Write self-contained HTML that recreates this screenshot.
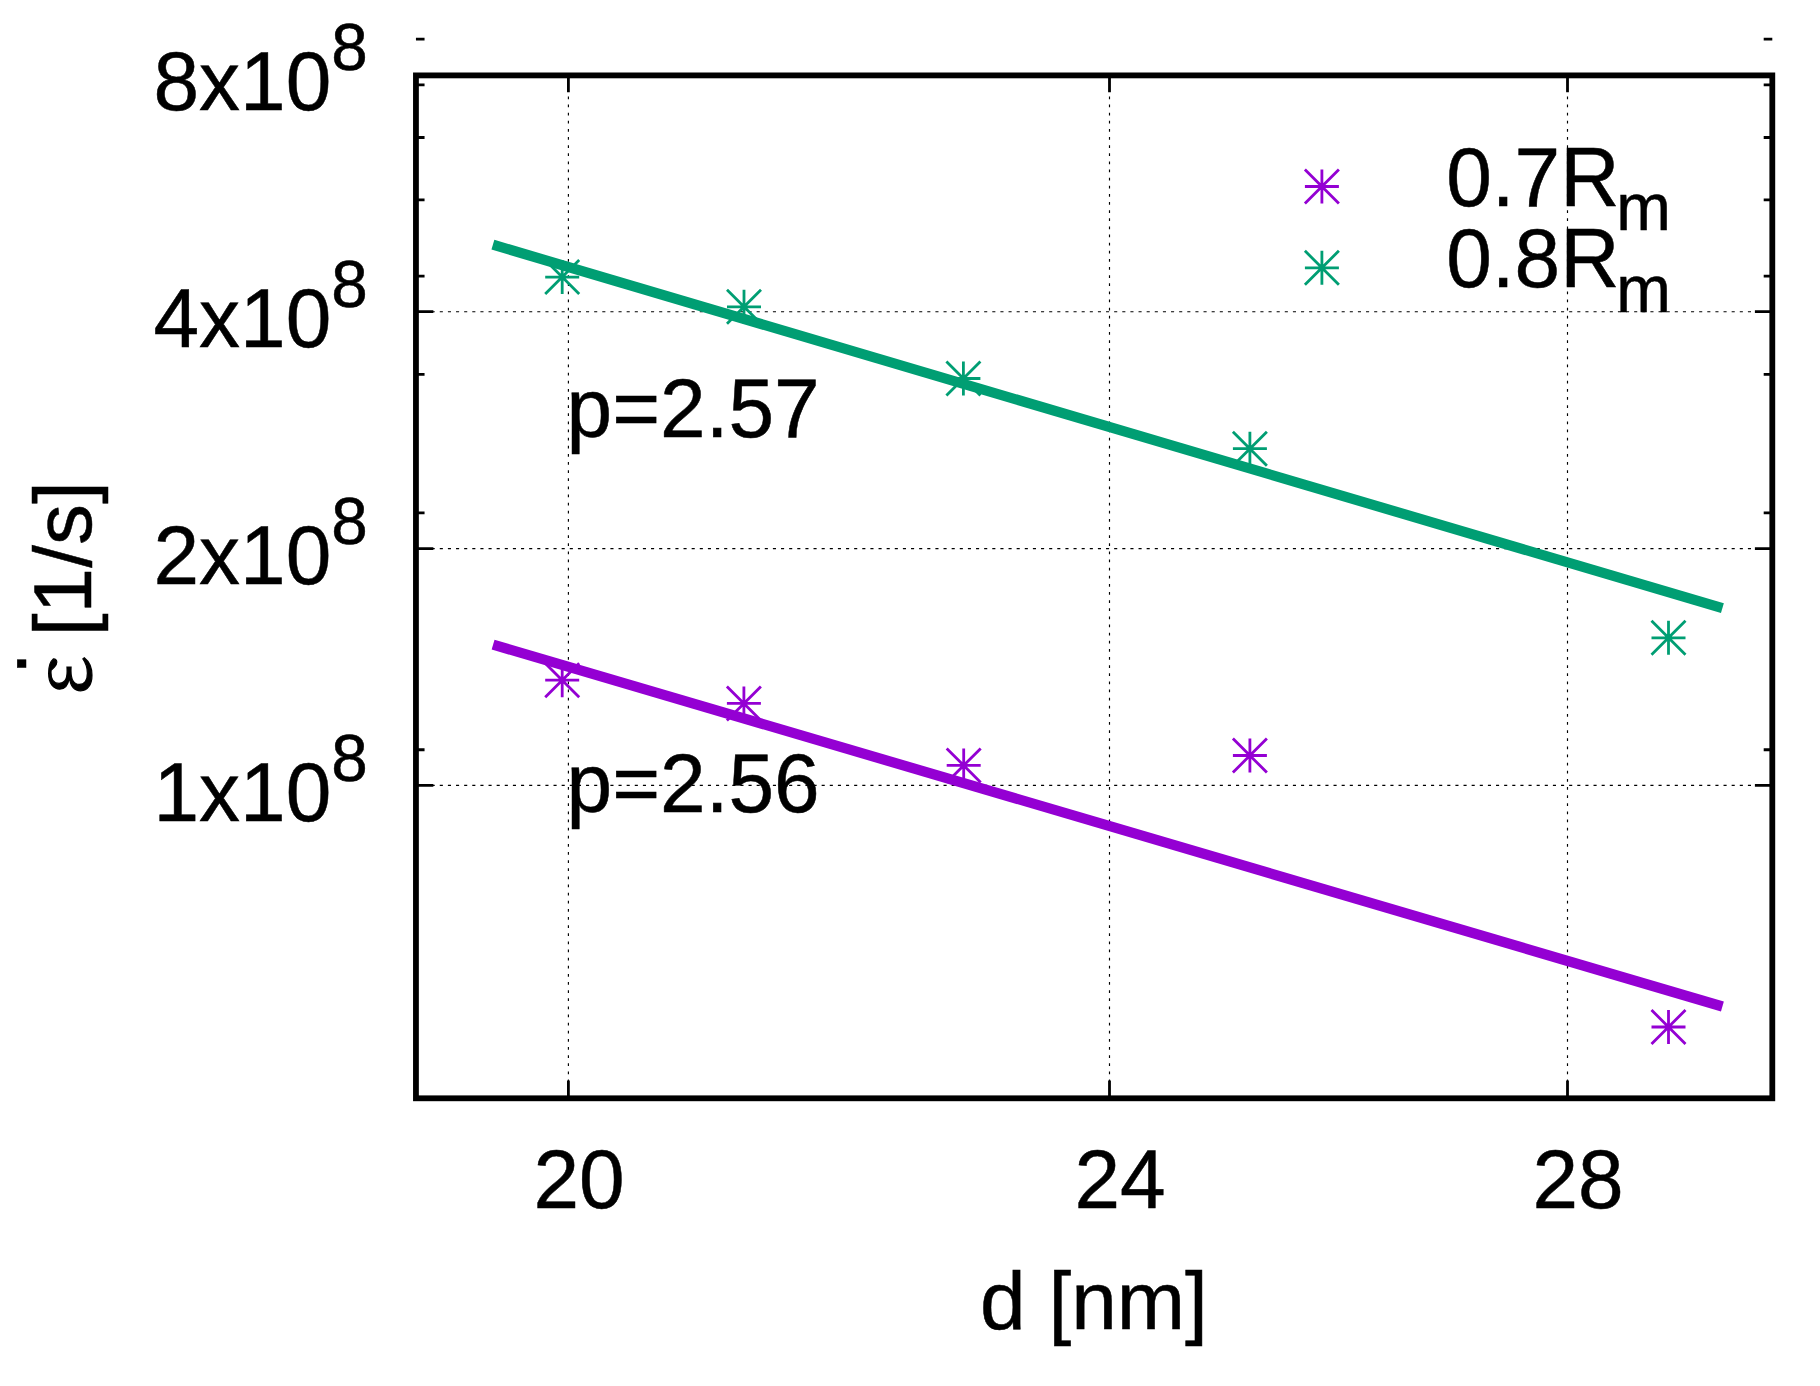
<!DOCTYPE html>
<html lang="en"><head><meta charset="utf-8"><title>strain rate vs grain size</title>
<style>
html,body{margin:0;padding:0;background:#fff;}
body{width:1820px;height:1386px;overflow:hidden;}
svg{display:block;}
text{font-family:"Liberation Sans",sans-serif;font-size:82px;fill:#000;stroke:#000;stroke-width:0.5px;}
.sup{font-size:65.6px;}
.g{stroke:#000;stroke-width:1.15;fill:none;}
.t{stroke:#000;stroke-width:2.8;fill:none;}
.sg{stroke:#009E73;stroke-width:2.8;fill:none;}
.sp{stroke:#9400D3;stroke-width:2.8;fill:none;}
</style></head><body>
<svg width="1820" height="1386" viewBox="0 0 1820 1386">
<rect x="0" y="0" width="1820" height="1386" fill="#fff"/>

<g class="g">
<path d="M415.95 785.40H1772.3" stroke-dasharray="3.1 5.025" stroke-dashoffset="0.555"/>
<path d="M415.95 548.55H1772.3" stroke-dasharray="3.1 5.025" stroke-dashoffset="0.555"/>
<path d="M415.95 311.70H1772.3" stroke-dasharray="3.1 5.025" stroke-dashoffset="0.555"/>
<path d="M568.4 1098.3V75.4" stroke-dasharray="2.7 5.425" stroke-dashoffset="0.24"/>
<path d="M1109.5 1098.3V75.4" stroke-dasharray="2.7 5.425" stroke-dashoffset="0.24"/>
<path d="M1567.5 1098.3V75.4" stroke-dasharray="2.7 5.425" stroke-dashoffset="0.24"/>
</g>
<g class="sp"><path transform="translate(562.2 680.2)" d="M-17 0H17M0 -17V17M-17 -17L17 17M-17 17L17 -17"/><path transform="translate(743.9 703.4)" d="M-17 0H17M0 -17V17M-17 -17L17 17M-17 17L17 -17"/><path transform="translate(963.7 765.4)" d="M-17 0H17M0 -17V17M-17 -17L17 17M-17 17L17 -17"/><path transform="translate(1249.9 755.5)" d="M-17 0H17M0 -17V17M-17 -17L17 17M-17 17L17 -17"/><path transform="translate(1668.5 1027)" d="M-17 0H17M0 -17V17M-17 -17L17 17M-17 17L17 -17"/><path transform="translate(1321.9 186.5)" d="M-17 0H17M0 -17V17M-17 -17L17 17M-17 17L17 -17"/></g>
<g class="sg"><path transform="translate(562.2 277.1)" d="M-17 0H17M0 -17V17M-17 -17L17 17M-17 17L17 -17"/><path transform="translate(744 306.8)" d="M-17 0H17M0 -17V17M-17 -17L17 17M-17 17L17 -17"/><path transform="translate(963.4 378.5)" d="M-17 0H17M0 -17V17M-17 -17L17 17M-17 17L17 -17"/><path transform="translate(1249.9 448.7)" d="M-17 0H17M0 -17V17M-17 -17L17 17M-17 17L17 -17"/><path transform="translate(1668.5 637.8)" d="M-17 0H17M0 -17V17M-17 -17L17 17M-17 17L17 -17"/><path transform="translate(1321.9 267.8)" d="M-17 0H17M0 -17V17M-17 -17L17 17M-17 17L17 -17"/></g>
<path d="M493.1 644.6L1722.4 1006.5" stroke="#9400D3" stroke-width="10.2" fill="none"/>
<path d="M492.9 244.7L1722.4 608.2" stroke="#009E73" stroke-width="10.2" fill="none"/>
<g class="t">
<path d="M415.95 749.74h8.6M1772.3 749.74h-8.6M415.95 512.89h8.6M1772.3 512.89h-8.6M415.95 374.34h8.6M1772.3 374.34h-8.6M415.95 276.04h8.6M1772.3 276.04h-8.6M415.95 199.79h8.6M1772.3 199.79h-8.6M415.95 137.49h8.6M1772.3 137.49h-8.6M415.95 84.82h8.6M1772.3 84.82h-8.6M415.95 39.19h8.6M1772.3 39.19h-8.6M415.95 785.40h17.4M1772.3 785.40h-17.4M415.95 548.55h17.4M1772.3 548.55h-17.4M415.95 311.70h17.4M1772.3 311.70h-17.4M568.4 75.4v16.8M568.4 1098.3v-17.8M1109.5 75.4v16.8M1109.5 1098.3v-17.8M1567.5 75.4v16.8M1567.5 1098.3v-17.8"/>
</g>
<rect x="415.95" y="75.4" width="1356.35" height="1022.90" fill="none" stroke="#000" stroke-width="5.8"/>
<text transform="translate(153.5 110.3) scale(1 1.022)">8x10<tspan class="sup" dy="-39">8</tspan></text>
<text transform="translate(153.5 347.1) scale(1 1.022)">4x10<tspan class="sup" dy="-39">8</tspan></text>
<text transform="translate(153.5 583.9) scale(1 1.022)">2x10<tspan class="sup" dy="-39">8</tspan></text>
<text transform="translate(153.5 820.8) scale(1 1.022)">1x10<tspan class="sup" dy="-39">8</tspan></text>
<text transform="translate(533.5 1208.3) scale(1 1.022)">20</text>
<text transform="translate(1074.5 1208.3) scale(1 1.022)">24</text>
<text transform="translate(1532.5 1208.3) scale(1 1.022)">28</text>
<text x="980" y="1329.4">d [nm]</text>
<text transform="translate(566.6 437) scale(1 1.022)">p=2.57</text>
<text transform="translate(566.6 811.8) scale(1 1.022)">p=2.56</text>
<text transform="translate(1446.2 205.9) scale(1 1.022)">0.7R<tspan class="sup" dx="-3" dy="23.9">m</tspan></text>
<text transform="translate(1446.2 287.3) scale(1 1.022)">0.8R<tspan class="sup" dx="-3" dy="23.9">m</tspan></text>
<g transform="translate(91.2 692.5) rotate(-90)"><text x="-2.2" y="-0.5" style="font-family:'Noto Serif CJK SC','Liberation Serif',serif;font-size:80px;stroke-width:1.2px">ε</text><text x="17.5" y="-65.3">.</text><text x="56.3" y="0">[1/s]</text></g>
</svg></body></html>
